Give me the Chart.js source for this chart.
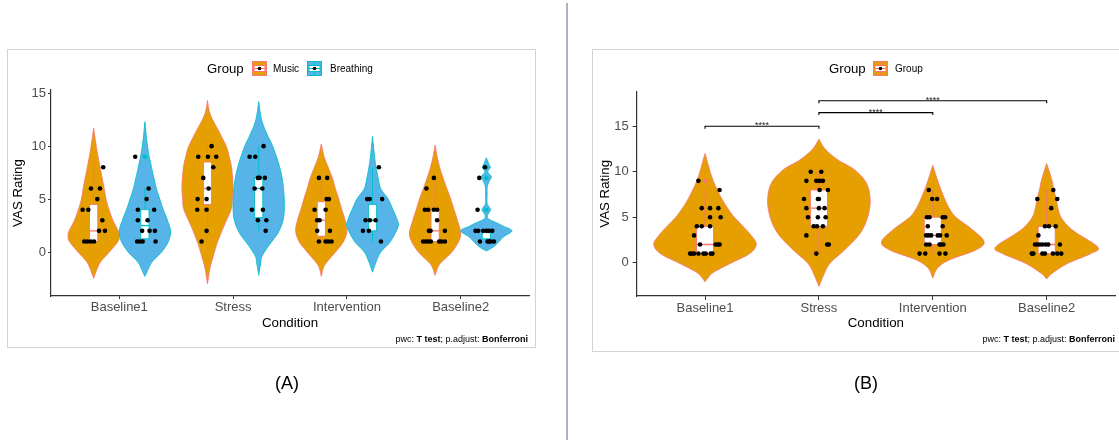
<!DOCTYPE html>
<html>
<head>
<meta charset="utf-8">
<script src="https://cdn.jsdelivr.net/npm/chart.js@4.4.1/dist/chart.umd.min.js"></script>
<style>
  html, body { margin: 0; padding: 0; background: #fff; }
  body { width: 1119px; height: 441px; position: relative; overflow: hidden;
         font-family: "Liberation Sans", Arial, sans-serif; color: #000; }
  .frame { position: absolute; border: 1px solid #d3d3d3; box-sizing: border-box; }
  #frameA { left: 7px; top: 49px; width: 529px; height: 299px; }
  #frameB { left: 592px; top: 49px; width: 540px; height: 303px; }
  #divider { position: absolute; left: 566px; top: 3px; width: 2px; height: 437px; background: #aab3c1; }
  canvas.plot { position: absolute; top: 0; }
  #chartA { left: 0; }
  #chartB { left: 560px; }
  .lg { position: absolute; white-space: nowrap; line-height: 1; }
  .lg-title { font-size: 13.2px; }
  .lg-label { font-size: 10px; }
  canvas.key { position: absolute; }
  .caption { position: absolute; font-size: 9px; white-space: nowrap; line-height: 1; }
  .tag { position: absolute; font-size: 18px; line-height: 1; transform: translate(-50%, -50%); }
</style>
</head>
<body>
<div id="frameA" class="frame"></div>
<div id="frameB" class="frame"></div>
<div id="divider"></div>

<canvas id="chartA" class="plot" width="560" height="441"></canvas>
<canvas id="chartB" class="plot" width="559" height="441"></canvas>

<!-- legend, panel A -->
<span class="lg lg-title" style="left:207px; top:62px;">Group</span>
<canvas class="key" id="keyMusic" width="15" height="15" style="left:252px; top:61px;"></canvas>
<span class="lg lg-label" style="left:273px; top:64px;">Music</span>
<canvas class="key" id="keyBreath" width="15" height="15" style="left:307px; top:61px;"></canvas>
<span class="lg lg-label" style="left:330px; top:64px;">Breathing</span>

<!-- legend, panel B -->
<span class="lg lg-title" style="left:829px; top:62px;">Group</span>
<canvas class="key" id="keyGroup" width="15" height="15" style="left:873px; top:61px;"></canvas>
<span class="lg lg-label" style="left:895px; top:64px;">Group</span>

<div class="caption" style="right:591px; top:335px;">pwc: <b>T test</b>; p.adjust: <b>Bonferroni</b></div>
<div class="caption" style="right:4px; top:335px;">pwc: <b>T test</b>; p.adjust: <b>Bonferroni</b></div>

<div class="tag" style="left:287px; top:383px;">(A)</div>
<div class="tag" style="left:866px; top:383px;">(B)</div>

<script>
// ---------------- data ----------------
const conditions = ['Baseline1', 'Stress', 'Intervention', 'Baseline2'];
const ratingTicks = [0, 5, 10, 15];

// VAS ratings per condition, Music group
const musicRatings = [
  [8, 6, 6, 5, 4, 4, 3, 2, 2, 1, 1, 1, 1],
  [10, 9, 9, 9, 8, 7, 6, 5, 5, 4, 4, 2, 1],
  [7, 7, 5, 5, 4, 4, 3, 3, 2, 2, 1, 1, 1, 1],
  [7, 6, 4, 4, 4, 4, 3, 2, 2, 2, 1, 1, 1, 1, 1, 1, 1]
];
// horizontal jitter of each Music point (category units)
const musicJitter = [
  [0.084, -0.024, 0.055, 0.032, -0.097, -0.047, 0.076, 0.047, 0.099, -0.083, -0.056, -0.026, 0.003],
  [0.036, -0.081, 0.004, 0.077, 0.051, -0.037, 0.010, -0.087, -0.008, -0.090, -0.008, -0.008, -0.052],
  [-0.021, 0.052, 0.047, 0.067, -0.059, 0.038, -0.036, -0.015, -0.036, 0.076, -0.021, 0.038, 0.061, 0.090],
  [-0.011, -0.076, -0.090, -0.061, -0.011, 0.018, 0.018, -0.054, -0.040, 0.086, -0.105, -0.081, -0.061, -0.037, 0.036, 0.056, 0.086]
];

// VAS ratings per condition, Breathing group
const breathRatings = [
  [9, 6, 5, 4, 4, 3, 3, 2, 2, 2, 1, 1, 1, 1],
  [10, 9, 9, 7, 7, 7, 6, 6, 4, 4, 3, 3, 2],
  [8, 5, 5, 5, 3, 3, 3, 2, 2, 1],
  [8, 7, 4, 2, 2, 2, 2, 2, 2, 1, 1, 1, 1, 1]
];
const breathJitter = [
  [-0.085, 0.033, 0.015, -0.062, 0.082, -0.062, 0.024, -0.024, 0.041, 0.088, -0.068, -0.044, -0.020, 0.094],
  [0.043, -0.080, -0.030, -0.007, 0.008, 0.054, -0.036, 0.032, -0.060, 0.037, -0.007, 0.067, 0.061],
  [0.056, -0.047, -0.025, 0.085, -0.061, -0.023, 0.027, -0.084, -0.032, 0.074],
  [-0.012, -0.062, -0.077, -0.095, -0.071, -0.027, 0.002, 0.023, 0.052, -0.056, 0.011, 0.025, 0.040, 0.067]
];

// VAS ratings per condition, both groups pooled
const pooledRatings = [
  [9, 8, 6, 6, 6, 5, 5, 4, 4, 4, 3, 2, 2, 2, 2, 1, 1, 1, 1, 1, 1, 1, 1],
  [10, 10, 9, 9, 9, 9, 8, 8, 7, 7, 7, 6, 6, 6, 5, 5, 5, 4, 4, 4, 3, 2, 2, 1],
  [8, 7, 7, 5, 5, 5, 5, 4, 4, 3, 3, 3, 3, 3, 3, 2, 2, 2, 2, 2, 1, 1, 1, 1],
  [8, 7, 7, 6, 4, 4, 4, 3, 2, 2, 2, 2, 2, 2, 2, 1, 1, 1, 1, 1, 1, 1]
];
const pooledJitter = [
  [-0.058, 0.128, -0.029, 0.044, 0.117, 0.044, 0.137, -0.072, -0.029, 0.044, -0.096, -0.044, 0.093, 0.114, 0.128, -0.131, -0.116, -0.096, -0.058, -0.014, 0.006, 0.050, 0.065],
  [-0.072, 0.021, -0.110, -0.023, 0.006, 0.035, 0.006, 0.079, -0.131, -0.009, 0.000, -0.110, 0.000, 0.050, -0.096, -0.009, 0.059, -0.046, -0.017, 0.035, -0.110, 0.073, 0.087, -0.023],
  [-0.035, -0.005, 0.038, -0.052, -0.029, 0.087, 0.108, 0.087, -0.044, -0.058, -0.038, -0.014, 0.044, 0.064, 0.122, -0.058, -0.029, 0.059, 0.073, 0.093, -0.116, -0.066, 0.059, 0.111],
  [0.058, -0.082, 0.093, 0.040, -0.015, 0.020, 0.079, -0.073, -0.102, -0.082, -0.061, -0.038, -0.009, 0.014, 0.116, -0.131, -0.117, -0.038, -0.015, 0.055, 0.093, 0.128]
];

// box summaries: [lower whisker, Q1, median, Q3, upper whisker]
const musicBox  = [[1, 1, 2, 4.5, 9], [1, 4.5, 6, 8.5, 10], [1, 1.5, 3, 4.75, 7], [1, 1, 2, 4, 7]];
const breathBox = [[1, 1.25, 2.5, 4, 6], [2, 3.25, 6, 7, 10], [1, 2, 3, 4.5, 8], [1, 1.25, 2, 2, 2]];
const pooledBox = [[1, 1, 2, 4, 8], [1, 4, 6, 8, 10], [1, 2, 3, 5, 8], [1, 1, 2, 4, 8]];
const musicOutliers  = [[], [], [], []];
const breathOutliers = [[9], [], [], [8, 7, 4]];
const pooledOutliers = [[9], [], [], []];

// violin outlines: [rating, relative density width]
const musicViolins = [
  [[-2.5, 0], [-2, 0.07], [-1, 0.25], [0, 0.61], [1, 0.95], [1.6, 1], [2, 0.96], [3, 0.75], [4, 0.6], [5, 0.48], [6, 0.41], [7, 0.33], [8, 0.25], [9, 0.17], [10, 0.1], [11, 0.04], [11.7, 0]],
  [[-3, 0], [-1.5, 0.1], [0, 0.27], [1, 0.4], [2.4, 0.63], [4, 0.92], [5, 0.97], [6, 1], [7, 0.98], [8, 0.94], [9, 0.85], [10, 0.73], [11.5, 0.42], [12.5, 0.2], [13.3, 0.07], [14.3, 0]],
  [[-2.3, 0], [-1.5, 0.08], [-1, 0.2], [0, 0.55], [1, 0.87], [2, 1], [3, 0.93], [4, 0.8], [5, 0.68], [6, 0.55], [7, 0.43], [8, 0.27], [9, 0.11], [10.2, 0]],
  [[-2.2, 0], [-1.5, 0.1], [-1, 0.23], [0, 0.65], [1, 0.92], [1.8, 1], [3, 0.87], [4, 0.74], [5, 0.61], [6, 0.46], [7, 0.31], [8, 0.18], [9, 0.08], [10.1, 0]]
];
const breathViolins = [
  [[-2.3, 0], [-2, 0.06], [-1, 0.26], [0, 0.65], [1, 0.92], [2, 1], [3, 0.88], [4, 0.72], [5, 0.58], [6, 0.45], [7, 0.35], [8, 0.26], [9, 0.17], [10, 0.1], [11, 0.05], [12.3, 0]],
  [[-2.2, 0], [-1, 0.08], [-0.4, 0.13], [0.5, 0.36], [1.8, 0.75], [3, 0.95], [4.3, 1], [6.2, 0.96], [8, 0.82], [9.9, 0.56], [11, 0.35], [12.1, 0.16], [13, 0.07], [14.2, 0]],
  [[-1.9, 0], [-1, 0.13], [0, 0.32], [1, 0.7], [2.4, 1], [3, 0.97], [4, 0.8], [5, 0.61], [6, 0.32], [7.1, 0.21], [8, 0.14], [9, 0.08], [10.9, 0]],
  [[0.1, 0], [0.5, 0.28], [1, 0.5], [1.45, 0.68], [2, 1], [2.4, 0.7], [2.7, 0.45], [3.1, 0.1], [3.4, 0.04], [3.7, 0.1], [4, 0.17], [4.3, 0.1], [4.6, 0.03], [5.5, 0.03], [6.2, 0.04], [6.7, 0.12], [7.1, 0.2], [7.4, 0.1], [7.6, 0.06], [7.8, 0.1], [8, 0.16], [8.3, 0.1], [8.9, 0]]
];
const pooledViolins = [
  [[-2.1, 0], [-1.5, 0.08], [-1, 0.18], [0, 0.52], [1, 0.87], [2, 1], [3, 0.9], [4, 0.74], [5, 0.57], [6, 0.44], [7, 0.33], [8, 0.24], [9, 0.16], [10, 0.1], [10.9, 0.055], [12, 0]],
  [[-2.6, 0], [-1.5, 0.08], [-0.1, 0.21], [1.4, 0.5], [3.2, 0.8], [5, 0.95], [6.9, 1], [8.7, 0.93], [10.2, 0.7], [11.3, 0.37], [12.5, 0.12], [13.6, 0]],
  [[-1.7, 0], [-0.6, 0.09], [0.3, 0.32], [1.4, 0.84], [2.3, 1], [3.6, 0.78], [5, 0.45], [6, 0.32], [6.9, 0.24], [8, 0.16], [9.1, 0.09], [10.7, 0]],
  [[-1.8, 0], [-1.2, 0.1], [-0.1, 0.4], [1, 0.86], [1.7, 1], [3.2, 0.6], [4, 0.42], [5, 0.28], [6, 0.22], [6.9, 0.19], [8, 0.14], [9.1, 0.1], [10.9, 0]]
];

// pairwise comparisons: [from condition, to condition, bracket height, label]
const comparisonFrom = [1, 2, 2];
const comparisonTo = [2, 3, 4];
const comparisonY = [15, 16.5, 17.8];
const comparisonLabel = ['****', '****', '****'];

// ---------------- styling ----------------
const FONT = '"Liberation Sans", Arial, sans-serif';
const ORANGE = '#E69F00', SKY = '#56B4E9', SALMON = '#F8766D', TEAL = '#00BFC4';
const AXIS = '#333333', TICKTXT = '#4D4D4D';

// Catmull-Rom smoothing of a violin outline
function smoothOutline(pts) {
  const out = [], n = pts.length, steps = 10;
  const cr = (a, b, c, d, t) => 0.5 * (2 * b + (-a + c) * t + (2 * a - 5 * b + 4 * c - d) * t * t + (-a + 3 * b - 3 * c + d) * t * t * t);
  for (let i = 0; i < n - 1; i++) {
    const p0 = pts[Math.max(i - 1, 0)], p1 = pts[i], p2 = pts[i + 1], p3 = pts[Math.min(i + 2, n - 1)];
    for (let s = 0; s < steps; s++) {
      const t = s / steps;
      out.push([cr(p0[0], p1[0], p2[0], p3[0], t), Math.max(0, cr(p0[1], p1[1], p2[1], p3[1], t))]);
    }
  }
  out.push(pts[n - 1]);
  return out;
}

function drawViolin(chart, center, outline, halfMax, fill, edge) {
  const { ctx, scales: { x, y } } = chart;
  const pts = smoothOutline(outline);
  ctx.beginPath();
  pts.forEach(([v, w], i) => {
    const px = x.getPixelForValue(center - w * halfMax), py = y.getPixelForValue(v);
    i ? ctx.lineTo(px, py) : ctx.moveTo(px, py);
  });
  for (let i = pts.length - 1; i >= 0; i--) {
    const [v, w] = pts[i];
    ctx.lineTo(x.getPixelForValue(center + w * halfMax), y.getPixelForValue(v));
  }
  ctx.closePath();
  ctx.fillStyle = fill;
  ctx.fill();
  ctx.lineWidth = 0.9;
  ctx.strokeStyle = edge;
  ctx.stroke();
}

function drawBox(chart, center, stats, half, edge) {
  const { ctx, scales: { x, y } } = chart;
  const [lo, q1, med, q3, hi] = stats;
  const cx = x.getPixelForValue(center);
  const l = x.getPixelForValue(center - half), r = x.getPixelForValue(center + half);
  ctx.strokeStyle = edge;
  ctx.lineWidth = 0.9;
  ctx.beginPath();
  ctx.moveTo(cx, y.getPixelForValue(q3)); ctx.lineTo(cx, y.getPixelForValue(hi));
  ctx.moveTo(cx, y.getPixelForValue(q1)); ctx.lineTo(cx, y.getPixelForValue(lo));
  ctx.stroke();
  const top = y.getPixelForValue(q3), bot = y.getPixelForValue(q1);
  ctx.fillStyle = '#fff';
  ctx.fillRect(l, top, r - l, bot - top);
  ctx.strokeRect(l, top, r - l, bot - top);
  ctx.lineWidth = 1.3;
  ctx.beginPath();
  ctx.moveTo(l, y.getPixelForValue(med)); ctx.lineTo(r, y.getPixelForValue(med));
  ctx.stroke();
}

function jittered(ratings, jitter, shift) {
  const out = [];
  ratings.forEach((vals, c) => vals.forEach((v, k) => out.push({ x: c + 1 + shift + jitter[c][k], y: v })));
  return out;
}
function outlierPoints(outliers, shift) {
  const out = [];
  outliers.forEach((vals, c) => vals.forEach(v => out.push({ x: c + 1 + shift, y: v })));
  return out;
}

function pointSet(data, color) {
  return { data, pointRadius: 2.3, pointHoverRadius: 2.3, pointBackgroundColor: color, pointBorderWidth: 0, showLine: false };
}

function axes(cfg) {
  return {
    x: {
      type: 'linear', min: 0.4, max: 4.6,
      afterBuildTicks: s => { s.ticks = conditions.map((c, i) => ({ value: i + 1 })); },
      afterFit: s => { s.height = 35; },
      ticks: { callback: v => conditions[v - 1], font: { size: 13, family: FONT }, color: TICKTXT, padding: 1, maxRotation: 0, autoSkip: false },
      grid: { display: true, drawOnChartArea: false, drawTicks: true, tickLength: cfg.tick, color: AXIS, lineWidth: 1 },
      border: { display: true, color: AXIS, width: 1.2 },
      title: { display: true, text: 'Condition', font: { size: 13.3, family: FONT }, color: '#000', padding: { top: 0, bottom: 0 } }
    },
    y: {
      type: 'linear', min: cfg.yMin, max: cfg.yMax,
      afterBuildTicks: s => { s.ticks = ratingTicks.map(v => ({ value: v })); },
      afterFit: s => { s.width = cfg.yWidth; },
      ticks: { font: { size: 13, family: FONT }, color: TICKTXT, padding: cfg.tickPad },
      grid: { display: true, drawOnChartArea: false, drawTicks: true, tickLength: cfg.tick, color: AXIS, lineWidth: 1 },
      border: { display: true, color: AXIS, width: 1.2 },
      title: { display: true, text: 'VAS Rating', font: { size: 13.3, family: FONT }, color: '#000', padding: { top: cfg.titlePad, bottom: 0 } }
    }
  };
}

// ---------------- panel A: Music vs Breathing ----------------
const DODGE = 0.225;
const layerA = {
  id: 'violinLayerA',
  beforeDatasetsDraw(chart) {
    const { ctx, chartArea } = chart;
    ctx.save();
    ctx.beginPath(); ctx.rect(chartArea.left, chartArea.top, chartArea.width, chartArea.height); ctx.clip();
    conditions.forEach((c, i) => {
      drawViolin(chart, i + 1 - DODGE, musicViolins[i], 0.225, ORANGE, SALMON);
      drawViolin(chart, i + 1 + DODGE, breathViolins[i], 0.225, SKY, TEAL);
    });
    conditions.forEach((c, i) => {
      drawBox(chart, i + 1 - DODGE, musicBox[i], 0.036, SALMON);
      drawBox(chart, i + 1 + DODGE, breathBox[i], 0.036, TEAL);
    });
    ctx.restore();
  }
};

new Chart(document.getElementById('chartA'), {
  type: 'scatter',
  data: {
    datasets: [
      pointSet(jittered(musicRatings, musicJitter, -DODGE), '#000'),
      pointSet(jittered(breathRatings, breathJitter, DODGE), '#000'),
      pointSet(outlierPoints(musicOutliers, -DODGE), SALMON),
      pointSet(outlierPoints(breathOutliers, DODGE), TEAL)
    ]
  },
  options: {
    responsive: false, animation: false, devicePixelRatio: 1,
    layout: { padding: { left: 0, right: 31, top: 90, bottom: 110 } },
    plugins: { legend: { display: false }, tooltip: { enabled: false } },
    scales: axes({ yMin: -4.15, yMax: 15.3, yWidth: 51, tick: 3, tickPad: 2, titlePad: 10 })
  },
  plugins: [layerA]
});

// ---------------- panel B: pooled ----------------
const layerB = {
  id: 'violinLayerB',
  beforeDatasetsDraw(chart) {
    const { ctx, chartArea } = chart;
    ctx.save();
    ctx.beginPath(); ctx.rect(chartArea.left, chartArea.top, chartArea.width, chartArea.height); ctx.clip();
    conditions.forEach((c, i) => drawViolin(chart, i + 1, pooledViolins[i], 0.45, ORANGE, SALMON));
    conditions.forEach((c, i) => drawBox(chart, i + 1, pooledBox[i], 0.075, SALMON));
    ctx.restore();
  },
  afterDatasetsDraw(chart) {
    const { ctx, scales: { x, y } } = chart;
    ctx.save();
    ctx.strokeStyle = '#000';
    ctx.lineWidth = 1.1;
    ctx.fillStyle = '#222';
    ctx.font = '9px ' + FONT;
    ctx.textAlign = 'center';
    ctx.textBaseline = 'alphabetic';
    comparisonFrom.forEach((f, k) => {
      const x1 = x.getPixelForValue(f), x2 = x.getPixelForValue(comparisonTo[k]);
      const yy = y.getPixelForValue(comparisonY[k]);
      ctx.beginPath();
      ctx.moveTo(x1, yy + 2.5); ctx.lineTo(x1, yy); ctx.lineTo(x2, yy); ctx.lineTo(x2, yy + 2.5);
      ctx.stroke();
      ctx.fillText(comparisonLabel[k], (x1 + x2) / 2, yy + 2);
    });
    ctx.restore();
  }
};

new Chart(document.getElementById('chartB'), {
  type: 'scatter',
  data: {
    datasets: [
      pointSet(jittered(pooledRatings, pooledJitter, 0), '#000'),
      pointSet(outlierPoints(pooledOutliers, 0), SALMON)
    ]
  },
  options: {
    responsive: false, animation: false, devicePixelRatio: 1,
    layout: { padding: { left: 30, right: 4, top: 91.7, bottom: 110 } },
    plugins: { legend: { display: false }, tooltip: { enabled: false } },
    scales: axes({ yMin: -3.66, yMax: 18.8, yWidth: 46.7, tick: 4, tickPad: 4, titlePad: 7.7 })
  },
  plugins: [layerB]
});

// ---------------- legend keys ----------------
function drawKey(id, fill, edge) {
  const c = document.getElementById(id).getContext('2d');
  c.fillStyle = fill; c.fillRect(0.5, 0.5, 14, 14);
  c.strokeStyle = edge; c.lineWidth = 1; c.strokeRect(0.5, 0.5, 14, 14);
  c.beginPath(); c.moveTo(7.5, 1.5); c.lineTo(7.5, 4.5); c.moveTo(7.5, 10.5); c.lineTo(7.5, 13.5); c.stroke();
  c.fillStyle = '#fff'; c.fillRect(2, 4.5, 11, 6);
  c.strokeRect(2, 4.5, 11, 6);
  c.beginPath(); c.moveTo(2, 7.5); c.lineTo(13, 7.5); c.stroke();
  c.fillStyle = '#000'; c.beginPath(); c.arc(7.5, 7.5, 1.8, 0, Math.PI * 2); c.fill();
}
drawKey('keyMusic', ORANGE, SALMON);
drawKey('keyBreath', SKY, TEAL);
drawKey('keyGroup', ORANGE, SALMON);
</script>
</body>
</html>
